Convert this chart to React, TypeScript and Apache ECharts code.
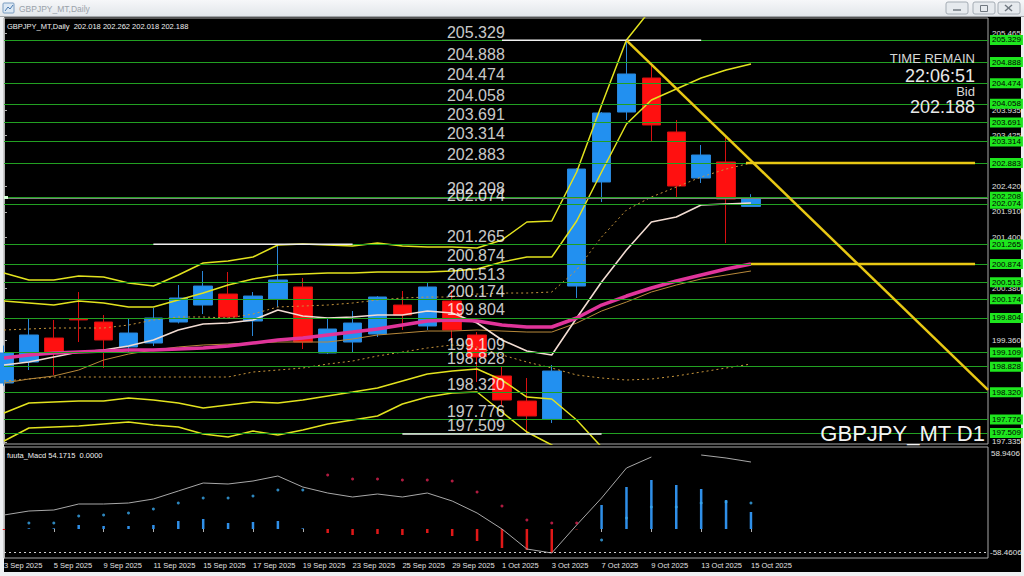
import { useEffect, useRef } from "react";
import * as echarts from "echarts";

const symbol = "GBPJPY_MT";
const dates = ["3 Sep 2025","4 Sep 2025","5 Sep 2025","8 Sep 2025","9 Sep 2025","10 Sep 2025","11 Sep 2025","12 Sep 2025","15 Sep 2025","16 Sep 2025","17 Sep 2025","18 Sep 2025","19 Sep 2025","22 Sep 2025","23 Sep 2025","24 Sep 2025","25 Sep 2025","26 Sep 2025","29 Sep 2025","30 Sep 2025","1 Oct 2025","2 Oct 2025","3 Oct 2025","6 Oct 2025","7 Oct 2025","8 Oct 2025","9 Oct 2025","10 Oct 2025","13 Oct 2025","14 Oct 2025","15 Oct 2025"];

// [open, close, low, high]
const ohlc = [
  [198.505,199.101,198.45,199.25],
  [198.922,199.46,198.763,199.798],
  [199.40,199.121,198.664,199.758],
  [199.78,199.76,199.32,200.315],
  [199.718,199.36,198.803,199.857],
  [199.221,199.499,199.121,199.778],
  [199.30,199.798,199.241,199.997],
  [199.718,200.196,199.69,200.454],
  [200.056,200.434,199.877,200.733],
  [200.275,199.818,199.798,200.713],
  [199.738,200.235,199.44,200.315],
  [200.176,200.554,200.017,201.266],
  [200.415,199.32,199.181,200.594],
  [199.101,199.579,199.081,199.778],
  [199.32,199.698,199.121,199.937],
  [199.479,200.216,199.42,200.235],
  [200.056,199.857,199.559,200.335],
  [199.639,200.415,199.559,200.494],
  [200.136,199.559,199.30,200.355],
  [199.46,199.022,198.524,199.519],
  [198.644,198.166,198.067,198.823],
  [198.146,197.848,197.489,198.604],
  [197.788,198.743,197.709,198.863],
  [200.434,202.762,200.196,202.782],
  [202.504,203.877,202.106,203.896],
  [203.896,204.653,203.737,205.323],
  [204.573,203.638,203.30,204.832],
  [203.499,202.424,202.205,203.737],
  [202.583,203.041,202.484,203.24],
  [202.902,202.165,201.29,203.439],
  [202.018,202.188,202.018,202.262],
];

const bandUpperOuter = [200.693,200.554,200.554,200.633,200.614,200.494,200.434,200.653,200.892,200.932,201.011,201.25,201.27,201.25,201.23,201.29,201.23,201.21,201.21,201.19,201.35,201.708,201.728,202.703,204.036,205.329,205.95,206.5,206.8,207.0,207.1];
const bandUpperInner = [200.136,200.096,200.056,200.136,200.096,200.017,200.017,200.156,200.295,200.454,200.574,200.653,200.673,200.693,200.693,200.713,200.713,200.713,200.733,200.773,200.912,201.011,201.011,201.728,202.703,203.658,204.135,204.354,204.573,204.732,204.851];
const bandLowerInner = [197.908,198.107,198.127,198.147,198.147,198.206,198.166,198.107,198.007,198.067,198.127,198.107,198.166,198.246,198.325,198.405,198.544,198.684,198.743,198.783,198.564,198.226,198.186,197.768,197.231,196.75,196.3,195.9,195.6,195.3,195.0];
const bandLowerOuter = [197.351,197.609,197.629,197.649,197.689,197.729,197.669,197.629,197.49,197.43,197.55,197.47,197.569,197.689,197.768,197.848,198.087,198.226,198.306,198.325,197.928,197.529,197.271,196.97,196.6,196.2,195.9,195.6,195.3,195.0,194.8];
const maFast = [198.863,198.922,199.022,199.121,199.161,199.241,199.36,199.559,199.678,199.698,199.758,199.957,199.838,199.798,199.818,199.857,199.857,199.937,199.897,199.698,199.36,199.141,199.062,199.798,200.514,201.151,201.708,201.807,202.046,202.066,202.086];
const maMid = [199.002,199.062,199.101,199.121,199.141,199.161,199.161,199.181,199.201,199.241,199.30,199.36,199.40,199.46,199.519,199.579,199.658,199.738,199.758,199.738,199.658,199.619,199.619,199.798,200.056,200.235,200.395,200.534,200.653,200.773,200.872];
const maSlow = [198.505,198.584,198.644,198.763,198.962,199.081,199.161,199.221,199.261,199.28,199.30,199.32,199.32,199.32,199.38,199.46,199.499,199.539,199.539,199.559,199.539,199.519,199.519,199.698,199.937,200.116,200.315,200.454,200.574,200.653,200.733];
const envUpper = [199.559,199.579,199.599,199.599,199.599,199.658,199.758,199.818,199.818,199.798,199.877,200.017,200.036,200.056,200.096,200.156,200.196,200.215,200.215,200.275,200.295,200.295,200.315,200.753,201.409,201.947,202.205,202.404,202.603,202.762,202.882];
const envLower = [198.544,198.584,198.624,198.624,198.624,198.624,198.624,198.624,198.624,198.624,198.723,198.763,198.803,198.882,198.942,199.042,199.121,199.201,199.261,199.221,199.062,198.922,198.803,198.664,198.604,198.564,198.584,198.644,198.723,198.803,198.882];

const levels = [205.329,204.888,204.474,204.058,203.691,203.314,202.883,202.208,202.074,201.265,200.874,200.513,200.174,199.804,199.109,198.828,198.320,197.776,197.509];
const priceTicks = [205.465,203.935,203.425,202.420,201.910,201.400,200.380,199.360,197.335];
const bidPrice = 202.188;

const trendLine = [[25, 205.323], [39.52, 198.368]];
const hLineHigh = [[29.8, 202.883], [39, 202.883]];
const hLineLow = [[30, 200.874], [39, 200.874]];

const markerIdx = [11, 25, 21];
const markerPrice = [201.266, 205.323, 197.489];
const markerIsHigh = [true, true, false];

const macdLine = [10.08,12.96,13.68,18.0,18.0,18.72,21.6,27.36,33.12,32.4,34.56,38.16,30.24,25.92,23.04,25.2,23.04,25.92,20.16,11.52,0,-14.4,-17.28,2.88,22.32,43.92,51.84,null,53.28,51.12,48.24];
const macdSignal = [null,4.32,4.32,9.36,10.08,11.52,14.4,18.72,22.32,22.32,23.76,28.08,28.08,38.88,36.0,36.0,35.28,35.28,34.56,26.64,16.56,6.48,4.32,4.32,-7.92,7.92,15.84,15.84,18.72,19.44,18.72];
const macdHist = [-0.7,0.5,0.5,2.88,2.16,2.16,2.88,5.76,7.2,4.32,5.04,5.76,0.5,-2.88,-4.32,-3.6,-4.32,-2.88,-5.04,-8.64,-13.68,-15.12,-17.28,-0.3,17.28,30.24,35.28,31.68,28.8,20.88,12.24];
const macdLevel = -16.56;
const macdHeader = "fuuta_Macd 54.1715  0.0000";
const macdTop = "58.9406";
const macdBottom = "-58.4606";

const FONT = "'Liberation Sans', Arial, sans-serif";
const xMax = 39.52;
const yMin = 197.291;
const yMax = 205.767;

const xy = (arr: (number | null)[]) => arr.map((v, i) => [i, v]);

function buildOption() {
  const last = ohlc[ohlc.length - 1];
  const header = `${symbol},Daily  ${last[0].toFixed(3)} ${last[3].toFixed(3)} ${last[2].toFixed(3)} ${last[1].toFixed(3)}`;
  const labelIdx = dates.map((_, i) => i).filter((i) => i % 2 === 0);

  const lineS = (data: any[], color: string, width: number, type: any = "solid", z = 4) => ({
    type: "line", xAxisIndex: 0, yAxisIndex: 0, data, showSymbol: false, symbol: "none",
    lineStyle: { color, width, type }, z, silent: true, clip: true,
  });

  const markerSeries = markerIdx.map((idx, k) => ({
    type: "line", xAxisIndex: 0, yAxisIndex: 0, showSymbol: false, symbol: "none", z: 5, silent: true,
    lineStyle: { color: "#f0f0f0", width: 1.5 },
    data: [
      [idx - 5, markerPrice[k]],
      { value: [idx, markerPrice[k]], label: { show: true, position: markerIsHigh[k] ? "top" : "bottom", distance: 1, formatter: markerPrice[k].toFixed(3), color: "#c8c8c8", fontSize: 8.5, fontFamily: FONT } },
      [idx + 3, markerPrice[k]],
    ],
  }));

  const txt = (x: number, y: number, text: string, size: number, align: string, fill = "#ffffff", extra: any = {}) => ({
    type: "text", x, y, z: 100,
    style: { text, fill, fontSize: size, fontFamily: FONT, align, verticalAlign: "middle", ...extra },
  });

  return {
    animation: false,
    backgroundColor: "#eef0f2",
    grid: [
      { left: 4, top: 18, width: 984, height: 426, show: true, borderColor: "#a8a8a8", borderWidth: 1 },
      { left: 4, top: 447, width: 984, height: 111, show: true, borderColor: "#a8a8a8", borderWidth: 1 },
    ],
    xAxis: [
      { type: "value", gridIndex: 0, min: 0, max: xMax, show: false, splitLine: { show: false } },
      {
        type: "value", gridIndex: 1, min: 0, max: xMax, splitLine: { show: false },
        axisLine: { show: false },
        axisTick: { show: true, customValues: labelIdx, length: 3, lineStyle: { color: "#b0b0b0" } },
        axisLabel: { customValues: labelIdx, formatter: (v: number) => dates[Math.round(v)] ?? "", align: "left", color: "#e0e0e0", fontSize: 7.5, margin: 3, fontFamily: FONT },
      },
    ],
    yAxis: [
      {
        type: "value", gridIndex: 0, position: "right", min: yMin, max: yMax, splitLine: { show: false },
        axisLine: { show: true, lineStyle: { color: "#b0b0b0" } },
        axisTick: { show: true, customValues: priceTicks, length: 3, lineStyle: { color: "#b0b0b0" } },
        axisLabel: { customValues: priceTicks, formatter: (v: number) => v.toFixed(3), color: "#e0e0e0", fontSize: 8, margin: 4, fontFamily: FONT },
      },
      {
        type: "value", gridIndex: 1, position: "right", min: -20.88, max: 59.04, splitLine: { show: false },
        axisLine: { show: true, lineStyle: { color: "#b0b0b0" } }, axisTick: { show: false }, axisLabel: { show: false },
      },
    ],
    series: [
      {
        type: "candlestick", xAxisIndex: 0, yAxisIndex: 0, barWidth: 19, z: 2, silent: true,
        data: ohlc.map((d, i) => [i, d[0], d[1], d[2], d[3]]),
        itemStyle: { color: "#2290f0", color0: "#ff1010", borderColor: "#2a86d8", borderColor0: "#d81010", borderWidth: 1 },
      },
      {
        type: "line", xAxisIndex: 0, yAxisIndex: 0, data: [], z: 3, silent: true,
        markLine: {
          silent: true, symbol: ["none", "none"], animation: false,
          data: [
            ...levels.map((v) => ({
              yAxis: v, name: v.toFixed(3),
              lineStyle: { color: "#22a022", width: 1, type: "solid" },
              label: { show: true, position: "end", formatter: "{b}", distance: 2, backgroundColor: "#1ee61e", color: "#000", fontSize: 8, fontFamily: FONT, padding: [1, 2, 1, 2] },
            })),
            { yAxis: bidPrice, name: "bid", lineStyle: { color: "#808080", width: 1.2, type: "solid" }, label: { show: false } },
          ],
        },
      },
      lineS(xy(bandUpperOuter), "#e2e21e", 1.5),
      lineS(xy(bandUpperInner), "#e2e21e", 1.5),
      lineS(xy(bandLowerInner), "#e2e21e", 1.5),
      lineS(xy(bandLowerOuter), "#e2e21e", 1.5),
      lineS(xy(envUpper), "#c8963c", 1, [2, 3]),
      lineS(xy(envLower), "#c8963c", 1, [2, 3]),
      lineS(xy(maSlow), "#b8893a", 1),
      lineS(xy(maFast), "#f2dcd2", 1.6),
      lineS(xy(maMid), "#e0349a", 3.5),
      lineS(trendLine, "#e8c814", 2.5, "solid", 6),
      lineS(hLineHigh, "#e8c814", 2.5, "solid", 6),
      lineS(hLineLow, "#e8c814", 2.5, "solid", 6),
      ...markerSeries,
      {
        type: "scatter", xAxisIndex: 0, yAxisIndex: 0, symbolSize: 0, z: 8, silent: true,
        data: levels.map((v) => [17.79, v]),
        label: { show: true, position: "right", distance: 0, offset: [0, -8], formatter: (p: any) => p.value[1].toFixed(3), color: "#ffffff", fontSize: 16, fontFamily: FONT },
      },
      {
        type: "bar", xAxisIndex: 1, yAxisIndex: 1, barWidth: 2.5, silent: true, z: 2,
        data: macdHist.map((v, i) => ({ value: [i, v], itemStyle: { color: v >= 0 ? "#2f8fe8" : "#e01818" } })),
      },
      {
        type: "line", xAxisIndex: 1, yAxisIndex: 1, data: xy(macdLine), showSymbol: false, symbol: "none", silent: true, z: 3,
        lineStyle: { color: "#a8a8a8", width: 1 }, connectNulls: false,
        markLine: { silent: true, symbol: ["none", "none"], data: [{ yAxis: macdLevel }], lineStyle: { color: "#d0d0d0", width: 1, type: [2, 3] }, label: { show: false } },
      },
      {
        type: "scatter", xAxisIndex: 1, yAxisIndex: 1, symbolSize: 3, silent: true, z: 4,
        data: macdSignal.map((v, i) => ({ value: [i, v], itemStyle: { color: macdHist[i] >= 0 ? "#38a8ec" : "#dc2250" } })),
      },
    ],
    graphic: [
      { type: "rect", z: -10, shape: { x: 4, y: 17, width: 1017, height: 555 }, style: { fill: "#000000" } },
      { type: "rect", z: 90, shape: { x: 0, y: 0, width: 1024, height: 16 }, style: { fill: new echarts.graphic.LinearGradient(0, 0, 0, 1, [{ offset: 0, color: "#f6f7f9" }, { offset: 1, color: "#e2e6ea" }]) } },
      { type: "line", z: 91, shape: { x1: 0, y1: 16.5, x2: 1024, y2: 16.5 }, style: { stroke: "#a0a4a8", lineWidth: 1 } },
      { type: "rect", z: 91, shape: { x: 3, y: 3, width: 11, height: 10, r: 1 }, style: { fill: "#dce8f4", stroke: "#7a9cc0", lineWidth: 1 } },
      { type: "polyline", z: 92, shape: { points: [[5, 11], [8, 7], [10, 9], [13, 5]] }, style: { stroke: "#4a7ab0", lineWidth: 1, fill: "none" } },
      txt(19, 8.5, `${symbol},Daily`, 8.5, "left", "#9aa2aa"),
      { type: "rect", z: 91, shape: { x: 946, y: 2, width: 22, height: 12, r: 2 }, style: { fill: "#e6eaee", stroke: "#a4acb4", lineWidth: 1 } },
      { type: "rect", z: 91, shape: { x: 973, y: 2, width: 22, height: 12, r: 2 }, style: { fill: "#e6eaee", stroke: "#a4acb4", lineWidth: 1 } },
      { type: "rect", z: 91, shape: { x: 998, y: 2, width: 22, height: 12, r: 2 }, style: { fill: "#e6eaee", stroke: "#a4acb4", lineWidth: 1 } },
      { type: "line", z: 92, shape: { x1: 953, y1: 10, x2: 961, y2: 10 }, style: { stroke: "#707880", lineWidth: 1.5 } },
      { type: "rect", z: 92, shape: { x: 980.5, y: 5.5, width: 7, height: 6 }, style: { fill: "none", stroke: "#707880", lineWidth: 1 } },
      { type: "line", z: 92, shape: { x1: 1005, y1: 5, x2: 1012, y2: 11 }, style: { stroke: "#707880", lineWidth: 1.5 } },
      { type: "line", z: 92, shape: { x1: 1012, y1: 5, x2: 1005, y2: 11 }, style: { stroke: "#707880", lineWidth: 1.5 } },
      txt(7, 26, header, 7.5, "left", "#f0f0f0"),
      txt(975, 58, "TIME REMAIN", 13, "right", "#d8d8d8"),
      txt(975, 76, "22:06:51", 18, "right", "#e8e8e8"),
      txt(975, 91, "Bid", 13, "right", "#d8d8d8"),
      txt(975, 107, bidPrice.toFixed(3), 18, "right", "#e8e8e8"),
      txt(985, 433, `${symbol} D1`, 22, "right", "#f4f4f4"),
      txt(7, 455, macdHeader, 7.5, "left", "#f0f0f0"),
      txt(991, 453, macdTop, 8, "left", "#e0e0e0"),
      txt(990, 552, macdBottom, 8, "left", "#e0e0e0"),
      { type: "rect", z: 50, shape: { x: 4, y: 196, width: 4, height: 3 }, style: { fill: "#d8ffd8" } },
    ],
  };
}

export default function App() {
  const ref = useRef<HTMLDivElement>(null);
  useEffect(() => {
    if (!ref.current) return;
    const chart = echarts.init(ref.current, null, { renderer: "svg" });
    chart.setOption(buildOption() as any);
    return () => chart.dispose();
  }, []);
  return <div ref={ref} style={{ position: "fixed", left: 0, top: 0, width: 1024, height: 576 }} />;
}
